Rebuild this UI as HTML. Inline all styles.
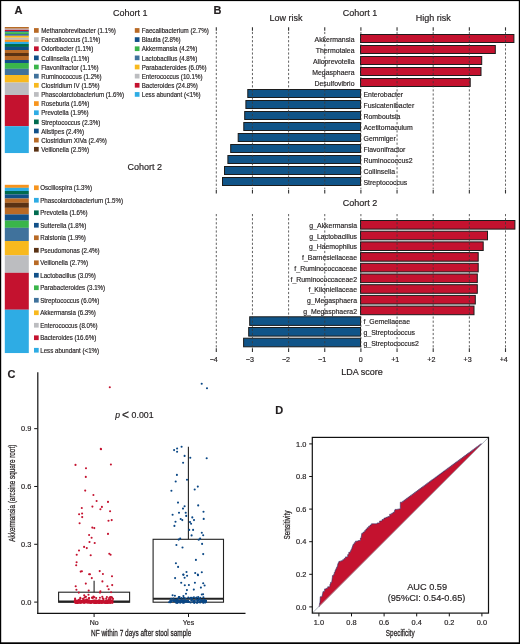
<!DOCTYPE html>
<html><head><meta charset="utf-8"><title>Figure</title>
<style>
html,body{margin:0;padding:0;background:#fff;}
body{width:520px;height:644px;overflow:hidden;}
svg{display:block;font-family:"Liberation Sans", sans-serif;will-change:transform;}
</style></head><body>
<svg width="520" height="644" viewBox="0 0 520 644">
<rect x="0" y="0" width="520" height="644" fill="#fff"/>
<text transform="translate(14.60,13.80)" font-size="11" fill="#231f20" stroke="#231f20" stroke-width="0.18" font-weight="bold">A</text>
<text transform="translate(113.00,15.70)" font-size="9" fill="#231f20" stroke="#231f20" stroke-width="0.18">Cohort 1</text>
<text transform="translate(127.40,169.90)" font-size="9" fill="#231f20" stroke="#231f20" stroke-width="0.18">Cohort 2</text>
<rect x="4.8" y="27" width="24" height="1.75" fill="#b86a26"/>
<rect x="4.8" y="28.7" width="24" height="1.15" fill="#bcbdc0"/>
<rect x="4.8" y="29.8" width="24" height="1.45" fill="#c4122f"/>
<rect x="4.8" y="31.2" width="24" height="1.05" fill="#115089"/>
<rect x="4.8" y="32.2" width="24" height="1.85" fill="#3ab54a"/>
<rect x="4.8" y="34" width="24" height="1.85" fill="#40729c"/>
<rect x="4.8" y="35.8" width="24" height="1.95" fill="#f8b91e"/>
<rect x="4.8" y="37.7" width="24" height="2.05" fill="#bcbdc0"/>
<rect x="4.8" y="39.7" width="24" height="2.25" fill="#f7941d"/>
<rect x="4.8" y="41.9" width="24" height="2.15" fill="#2eace4"/>
<rect x="4.8" y="44" width="24" height="2.95" fill="#006b4f"/>
<rect x="4.8" y="46.9" width="24" height="3.15" fill="#115089"/>
<rect x="4.8" y="50" width="24" height="3.05" fill="#b86a26"/>
<rect x="4.8" y="53" width="24" height="3.05" fill="#5a3214"/>
<rect x="4.8" y="56" width="24" height="4.05" fill="#b86a26"/>
<rect x="4.8" y="60" width="24" height="3.05" fill="#115089"/>
<rect x="4.8" y="63" width="24" height="5.85" fill="#3ab54a"/>
<rect x="4.8" y="68.8" width="24" height="6.25" fill="#40729c"/>
<rect x="4.8" y="75" width="24" height="7.55" fill="#f8b91e"/>
<rect x="4.8" y="82.5" width="24" height="12.55" fill="#bcbdc0"/>
<rect x="4.8" y="95" width="24" height="31.25" fill="#c4122f"/>
<rect x="4.8" y="126.2" width="24" height="26.85" fill="#2eace4"/>
<rect x="34" y="28.10" width="4.7" height="4.7" fill="#b86a26"/>
<text transform="translate(41.20,33.10) scale(0.86,1)" font-size="7.2" fill="#231f20" stroke="#231f20" stroke-width="0.18">Methanobrevibacter (1.1%)</text>
<rect x="34" y="37.24" width="4.7" height="4.7" fill="#bcbdc0"/>
<text transform="translate(41.20,42.24) scale(0.86,1)" font-size="7.2" fill="#231f20" stroke="#231f20" stroke-width="0.18">Faecalicoccus (1.1%)</text>
<rect x="34" y="46.38" width="4.7" height="4.7" fill="#c4122f"/>
<text transform="translate(41.20,51.38) scale(0.86,1)" font-size="7.2" fill="#231f20" stroke="#231f20" stroke-width="0.18">Odoribacter (1.1%)</text>
<rect x="34" y="55.52" width="4.7" height="4.7" fill="#115089"/>
<text transform="translate(41.20,60.52) scale(0.86,1)" font-size="7.2" fill="#231f20" stroke="#231f20" stroke-width="0.18">Collinsella (1.1%)</text>
<rect x="34" y="64.66" width="4.7" height="4.7" fill="#3ab54a"/>
<text transform="translate(41.20,69.66) scale(0.86,1)" font-size="7.2" fill="#231f20" stroke="#231f20" stroke-width="0.18">Flavonifractor (1.1%)</text>
<rect x="34" y="73.80" width="4.7" height="4.7" fill="#40729c"/>
<text transform="translate(41.20,78.80) scale(0.86,1)" font-size="7.2" fill="#231f20" stroke="#231f20" stroke-width="0.18">Ruminococcus (1.2%)</text>
<rect x="34" y="82.94" width="4.7" height="4.7" fill="#f8b91e"/>
<text transform="translate(41.20,87.94) scale(0.86,1)" font-size="7.2" fill="#231f20" stroke="#231f20" stroke-width="0.18">Clostridium IV (1.5%)</text>
<rect x="34" y="92.08" width="4.7" height="4.7" fill="#bcbdc0"/>
<text transform="translate(41.20,97.08) scale(0.86,1)" font-size="7.2" fill="#231f20" stroke="#231f20" stroke-width="0.18">Phascolarctobacterium (1.6%)</text>
<rect x="34" y="101.22" width="4.7" height="4.7" fill="#f7941d"/>
<text transform="translate(41.20,106.22) scale(0.86,1)" font-size="7.2" fill="#231f20" stroke="#231f20" stroke-width="0.18">Roseburia (1.6%)</text>
<rect x="34" y="110.36" width="4.7" height="4.7" fill="#2eace4"/>
<text transform="translate(41.20,115.36) scale(0.86,1)" font-size="7.2" fill="#231f20" stroke="#231f20" stroke-width="0.18">Prevotella (1.9%)</text>
<rect x="34" y="119.50" width="4.7" height="4.7" fill="#006b4f"/>
<text transform="translate(41.20,124.50) scale(0.86,1)" font-size="7.2" fill="#231f20" stroke="#231f20" stroke-width="0.18">Streptococcus (2.3%)</text>
<rect x="34" y="128.64" width="4.7" height="4.7" fill="#115089"/>
<text transform="translate(41.20,133.64) scale(0.86,1)" font-size="7.2" fill="#231f20" stroke="#231f20" stroke-width="0.18">Alistipes (2.4%)</text>
<rect x="34" y="137.78" width="4.7" height="4.7" fill="#b86a26"/>
<text transform="translate(41.20,142.78) scale(0.86,1)" font-size="7.2" fill="#231f20" stroke="#231f20" stroke-width="0.18">Clostridium XIVa (2.4%)</text>
<rect x="34" y="146.92" width="4.7" height="4.7" fill="#5a3214"/>
<text transform="translate(41.20,151.92) scale(0.86,1)" font-size="7.2" fill="#231f20" stroke="#231f20" stroke-width="0.18">Veillonella (2.5%)</text>
<rect x="134.8" y="28.10" width="4.7" height="4.7" fill="#b86a26"/>
<text transform="translate(141.70,33.10) scale(0.86,1)" font-size="7.2" fill="#231f20" stroke="#231f20" stroke-width="0.18">Faecalibacterium (2.7%)</text>
<rect x="134.8" y="37.24" width="4.7" height="4.7" fill="#115089"/>
<text transform="translate(141.70,42.24) scale(0.86,1)" font-size="7.2" fill="#231f20" stroke="#231f20" stroke-width="0.18">Blautia (2.8%)</text>
<rect x="134.8" y="46.38" width="4.7" height="4.7" fill="#3ab54a"/>
<text transform="translate(141.70,51.38) scale(0.86,1)" font-size="7.2" fill="#231f20" stroke="#231f20" stroke-width="0.18">Akkermansia (4.2%)</text>
<rect x="134.8" y="55.52" width="4.7" height="4.7" fill="#40729c"/>
<text transform="translate(141.70,60.52) scale(0.86,1)" font-size="7.2" fill="#231f20" stroke="#231f20" stroke-width="0.18">Lactobacillus (4.8%)</text>
<rect x="134.8" y="64.66" width="4.7" height="4.7" fill="#f8b91e"/>
<text transform="translate(141.70,69.66) scale(0.86,1)" font-size="7.2" fill="#231f20" stroke="#231f20" stroke-width="0.18">Parabacteroides (6.0%)</text>
<rect x="134.8" y="73.80" width="4.7" height="4.7" fill="#bcbdc0"/>
<text transform="translate(141.70,78.80) scale(0.86,1)" font-size="7.2" fill="#231f20" stroke="#231f20" stroke-width="0.18">Enterococcus (10.1%)</text>
<rect x="134.8" y="82.94" width="4.7" height="4.7" fill="#c4122f"/>
<text transform="translate(141.70,87.94) scale(0.86,1)" font-size="7.2" fill="#231f20" stroke="#231f20" stroke-width="0.18">Bacteroides (24.8%)</text>
<rect x="134.8" y="92.08" width="4.7" height="4.7" fill="#2eace4"/>
<text transform="translate(141.70,97.08) scale(0.86,1)" font-size="7.2" fill="#231f20" stroke="#231f20" stroke-width="0.18">Less abundant (&lt;1%)</text>
<rect x="4.8" y="184.8" width="24" height="3.05" fill="#f7941d"/>
<rect x="4.8" y="187.8" width="24" height="3.25" fill="#2eace4"/>
<rect x="4.8" y="191" width="24" height="3.45" fill="#006b4f"/>
<rect x="4.8" y="194.4" width="24" height="4.15" fill="#115089"/>
<rect x="4.8" y="198.5" width="24" height="4.35" fill="#b86a26"/>
<rect x="4.8" y="202.8" width="24" height="5.05" fill="#5a3214"/>
<rect x="4.8" y="207.8" width="24" height="6.65" fill="#b86a26"/>
<rect x="4.8" y="214.4" width="24" height="6.25" fill="#115089"/>
<rect x="4.8" y="220.6" width="24" height="7.25" fill="#3ab54a"/>
<rect x="4.8" y="227.8" width="24" height="13.25" fill="#40729c"/>
<rect x="4.8" y="241" width="24" height="14.35" fill="#f8b91e"/>
<rect x="4.8" y="255.3" width="24" height="17.55" fill="#bcbdc0"/>
<rect x="4.8" y="272.8" width="24" height="36.95" fill="#c4122f"/>
<rect x="4.8" y="309.7" width="24" height="43.35" fill="#2eace4"/>
<rect x="34" y="185.40" width="4.7" height="4.7" fill="#f7941d"/>
<text transform="translate(40.20,190.40) scale(0.86,1)" font-size="7.2" fill="#231f20" stroke="#231f20" stroke-width="0.18">Oscillospira (1.3%)</text>
<rect x="34" y="197.90" width="4.7" height="4.7" fill="#2eace4"/>
<text transform="translate(40.20,202.90) scale(0.86,1)" font-size="7.2" fill="#231f20" stroke="#231f20" stroke-width="0.18">Phascolarctobacterium (1.5%)</text>
<rect x="34" y="210.40" width="4.7" height="4.7" fill="#006b4f"/>
<text transform="translate(40.20,215.40) scale(0.86,1)" font-size="7.2" fill="#231f20" stroke="#231f20" stroke-width="0.18">Prevotella (1.6%)</text>
<rect x="34" y="222.90" width="4.7" height="4.7" fill="#115089"/>
<text transform="translate(40.20,227.90) scale(0.86,1)" font-size="7.2" fill="#231f20" stroke="#231f20" stroke-width="0.18">Sutterella (1.8%)</text>
<rect x="34" y="235.40" width="4.7" height="4.7" fill="#b86a26"/>
<text transform="translate(40.20,240.40) scale(0.86,1)" font-size="7.2" fill="#231f20" stroke="#231f20" stroke-width="0.18">Ralstonia (1.9%)</text>
<rect x="34" y="247.90" width="4.7" height="4.7" fill="#5a3214"/>
<text transform="translate(40.20,252.90) scale(0.86,1)" font-size="7.2" fill="#231f20" stroke="#231f20" stroke-width="0.18">Pseudomonas (2.4%)</text>
<rect x="34" y="260.40" width="4.7" height="4.7" fill="#b86a26"/>
<text transform="translate(40.20,265.40) scale(0.86,1)" font-size="7.2" fill="#231f20" stroke="#231f20" stroke-width="0.18">Veillonella (2.7%)</text>
<rect x="34" y="272.90" width="4.7" height="4.7" fill="#115089"/>
<text transform="translate(40.20,277.90) scale(0.86,1)" font-size="7.2" fill="#231f20" stroke="#231f20" stroke-width="0.18">Lactobacillus (3.0%)</text>
<rect x="34" y="285.40" width="4.7" height="4.7" fill="#3ab54a"/>
<text transform="translate(40.20,290.40) scale(0.86,1)" font-size="7.2" fill="#231f20" stroke="#231f20" stroke-width="0.18">Parabacteroides (3.1%)</text>
<rect x="34" y="297.90" width="4.7" height="4.7" fill="#40729c"/>
<text transform="translate(40.20,302.90) scale(0.86,1)" font-size="7.2" fill="#231f20" stroke="#231f20" stroke-width="0.18">Streptococcus (6.0%)</text>
<rect x="34" y="310.40" width="4.7" height="4.7" fill="#f8b91e"/>
<text transform="translate(40.20,315.40) scale(0.86,1)" font-size="7.2" fill="#231f20" stroke="#231f20" stroke-width="0.18">Akkermansia (6.3%)</text>
<rect x="34" y="322.90" width="4.7" height="4.7" fill="#bcbdc0"/>
<text transform="translate(40.20,327.90) scale(0.86,1)" font-size="7.2" fill="#231f20" stroke="#231f20" stroke-width="0.18">Enterococcus (8.0%)</text>
<rect x="34" y="335.40" width="4.7" height="4.7" fill="#c4122f"/>
<text transform="translate(40.20,340.40) scale(0.86,1)" font-size="7.2" fill="#231f20" stroke="#231f20" stroke-width="0.18">Bacteroides (16.6%)</text>
<rect x="34" y="347.90" width="4.7" height="4.7" fill="#2eace4"/>
<text transform="translate(40.20,352.90) scale(0.86,1)" font-size="7.2" fill="#231f20" stroke="#231f20" stroke-width="0.18">Less abundant (&lt;1%)</text>
<text transform="translate(213.40,13.80)" font-size="11" fill="#231f20" stroke="#231f20" stroke-width="0.18" font-weight="bold">B</text>
<text transform="translate(269.60,21.20)" font-size="9" fill="#231f20" stroke="#231f20" stroke-width="0.18">Low risk</text>
<text transform="translate(342.80,16.30)" font-size="9" fill="#231f20" stroke="#231f20" stroke-width="0.18">Cohort 1</text>
<text transform="translate(415.80,21.10)" font-size="9" fill="#231f20" stroke="#231f20" stroke-width="0.18">High risk</text>
<text transform="translate(342.70,206.30)" font-size="9" fill="#231f20" stroke="#231f20" stroke-width="0.18">Cohort 2</text>
<rect x="360.50" y="34.50" width="153.40" height="8.00" fill="#c4122f" stroke="#1c1c1c" stroke-width="1"/>
<text transform="translate(354.50,41.70) scale(0.935,1)" font-size="7.4" fill="#231f20" stroke="#231f20" stroke-width="0.18" text-anchor="end">Akkermansia</text>
<rect x="360.50" y="45.50" width="134.80" height="8.00" fill="#c4122f" stroke="#1c1c1c" stroke-width="1"/>
<text transform="translate(354.50,52.70) scale(0.935,1)" font-size="7.4" fill="#231f20" stroke="#231f20" stroke-width="0.18" text-anchor="end">Thermotalea</text>
<rect x="360.50" y="56.50" width="121.20" height="8.00" fill="#c4122f" stroke="#1c1c1c" stroke-width="1"/>
<text transform="translate(354.50,63.70) scale(0.935,1)" font-size="7.4" fill="#231f20" stroke="#231f20" stroke-width="0.18" text-anchor="end">Alloprevotella</text>
<rect x="360.50" y="67.50" width="120.50" height="8.00" fill="#c4122f" stroke="#1c1c1c" stroke-width="1"/>
<text transform="translate(354.50,74.70) scale(0.935,1)" font-size="7.4" fill="#231f20" stroke="#231f20" stroke-width="0.18" text-anchor="end">Megasphaera</text>
<rect x="360.50" y="78.50" width="109.70" height="8.00" fill="#c4122f" stroke="#1c1c1c" stroke-width="1"/>
<text transform="translate(354.50,85.70) scale(0.935,1)" font-size="7.4" fill="#231f20" stroke="#231f20" stroke-width="0.18" text-anchor="end">Desulfovibrio</text>
<rect x="247.80" y="89.50" width="112.70" height="8.00" fill="#105488" stroke="#1c1c1c" stroke-width="1"/>
<text transform="translate(363.50,96.70) scale(0.935,1)" font-size="7.4" fill="#231f20" stroke="#231f20" stroke-width="0.18">Enterobacter</text>
<rect x="245.90" y="100.50" width="114.60" height="8.00" fill="#105488" stroke="#1c1c1c" stroke-width="1"/>
<text transform="translate(363.50,107.70) scale(0.935,1)" font-size="7.4" fill="#231f20" stroke="#231f20" stroke-width="0.18">Fusicatenibacter</text>
<rect x="244.70" y="111.50" width="115.80" height="8.00" fill="#105488" stroke="#1c1c1c" stroke-width="1"/>
<text transform="translate(363.50,118.70) scale(0.935,1)" font-size="7.4" fill="#231f20" stroke="#231f20" stroke-width="0.18">Romboutsia</text>
<rect x="243.80" y="122.50" width="116.70" height="8.00" fill="#105488" stroke="#1c1c1c" stroke-width="1"/>
<text transform="translate(363.50,129.70) scale(0.935,1)" font-size="7.4" fill="#231f20" stroke="#231f20" stroke-width="0.18">Acetitomaculum</text>
<rect x="238.20" y="133.50" width="122.30" height="8.00" fill="#105488" stroke="#1c1c1c" stroke-width="1"/>
<text transform="translate(363.50,140.70) scale(0.935,1)" font-size="7.4" fill="#231f20" stroke="#231f20" stroke-width="0.18">Gemmiger</text>
<rect x="230.70" y="144.50" width="129.80" height="8.00" fill="#105488" stroke="#1c1c1c" stroke-width="1"/>
<text transform="translate(363.50,151.70) scale(0.935,1)" font-size="7.4" fill="#231f20" stroke="#231f20" stroke-width="0.18">Flavonifractor</text>
<rect x="227.90" y="155.50" width="132.60" height="8.00" fill="#105488" stroke="#1c1c1c" stroke-width="1"/>
<text transform="translate(363.50,162.70) scale(0.935,1)" font-size="7.4" fill="#231f20" stroke="#231f20" stroke-width="0.18">Ruminococcus2</text>
<rect x="224.50" y="166.50" width="136.00" height="8.00" fill="#105488" stroke="#1c1c1c" stroke-width="1"/>
<text transform="translate(363.50,173.70) scale(0.935,1)" font-size="7.4" fill="#231f20" stroke="#231f20" stroke-width="0.18">Collinsella</text>
<rect x="222.50" y="177.50" width="138.00" height="8.00" fill="#105488" stroke="#1c1c1c" stroke-width="1"/>
<text transform="translate(363.50,184.70) scale(0.935,1)" font-size="7.4" fill="#231f20" stroke="#231f20" stroke-width="0.18">Streptococcus</text>
<line x1="216.30" y1="27.3" x2="216.30" y2="30.7" stroke="#333" stroke-width="1.1"/>
<line x1="216.30" y1="189.7" x2="216.30" y2="193.5" stroke="#333" stroke-width="1.1"/>
<line x1="216.30" y1="31.9" x2="216.30" y2="188.9" stroke="#3a3a3a" stroke-width="0.8" stroke-dasharray="2.2 1.9"/>
<line x1="252.45" y1="27.3" x2="252.45" y2="30.7" stroke="#333" stroke-width="1.1"/>
<line x1="252.45" y1="189.7" x2="252.45" y2="193.5" stroke="#333" stroke-width="1.1"/>
<line x1="252.45" y1="31.9" x2="252.45" y2="188.9" stroke="#3a3a3a" stroke-width="0.8" stroke-dasharray="2.2 1.9"/>
<line x1="288.60" y1="27.3" x2="288.60" y2="30.7" stroke="#333" stroke-width="1.1"/>
<line x1="288.60" y1="189.7" x2="288.60" y2="193.5" stroke="#333" stroke-width="1.1"/>
<line x1="288.60" y1="31.9" x2="288.60" y2="188.9" stroke="#3a3a3a" stroke-width="0.8" stroke-dasharray="2.2 1.9"/>
<line x1="324.75" y1="27.3" x2="324.75" y2="30.7" stroke="#333" stroke-width="1.1"/>
<line x1="324.75" y1="189.7" x2="324.75" y2="193.5" stroke="#333" stroke-width="1.1"/>
<line x1="324.75" y1="31.9" x2="324.75" y2="188.9" stroke="#3a3a3a" stroke-width="0.8" stroke-dasharray="2.2 1.9"/>
<line x1="360.90" y1="27.3" x2="360.90" y2="30.7" stroke="#333" stroke-width="1.1"/>
<line x1="360.90" y1="189.7" x2="360.90" y2="193.5" stroke="#333" stroke-width="1.1"/>
<line x1="360.90" y1="31.9" x2="360.90" y2="188.9" stroke="#3a3a3a" stroke-width="0.8" stroke-dasharray="2.2 1.9"/>
<line x1="397.05" y1="27.3" x2="397.05" y2="30.7" stroke="#333" stroke-width="1.1"/>
<line x1="397.05" y1="189.7" x2="397.05" y2="193.5" stroke="#333" stroke-width="1.1"/>
<line x1="397.05" y1="31.9" x2="397.05" y2="188.9" stroke="#3a3a3a" stroke-width="0.8" stroke-dasharray="2.2 1.9"/>
<line x1="433.20" y1="27.3" x2="433.20" y2="30.7" stroke="#333" stroke-width="1.1"/>
<line x1="433.20" y1="189.7" x2="433.20" y2="193.5" stroke="#333" stroke-width="1.1"/>
<line x1="433.20" y1="31.9" x2="433.20" y2="188.9" stroke="#3a3a3a" stroke-width="0.8" stroke-dasharray="2.2 1.9"/>
<line x1="469.35" y1="27.3" x2="469.35" y2="30.7" stroke="#333" stroke-width="1.1"/>
<line x1="469.35" y1="189.7" x2="469.35" y2="193.5" stroke="#333" stroke-width="1.1"/>
<line x1="469.35" y1="31.9" x2="469.35" y2="188.9" stroke="#3a3a3a" stroke-width="0.8" stroke-dasharray="2.2 1.9"/>
<line x1="505.50" y1="27.3" x2="505.50" y2="30.7" stroke="#333" stroke-width="1.1"/>
<line x1="505.50" y1="189.7" x2="505.50" y2="193.5" stroke="#333" stroke-width="1.1"/>
<line x1="505.50" y1="31.9" x2="505.50" y2="188.9" stroke="#3a3a3a" stroke-width="0.8" stroke-dasharray="2.2 1.9"/>
<rect x="360.50" y="220.50" width="154.40" height="8.60" fill="#c4122f" stroke="#1c1c1c" stroke-width="1"/>
<text transform="translate(357.00,228.00) scale(0.935,1)" font-size="7.4" fill="#231f20" stroke="#231f20" stroke-width="0.18" text-anchor="end">g_Akkermansia</text>
<rect x="360.50" y="231.20" width="127.00" height="8.60" fill="#c4122f" stroke="#1c1c1c" stroke-width="1"/>
<text transform="translate(357.00,238.70) scale(0.935,1)" font-size="7.4" fill="#231f20" stroke="#231f20" stroke-width="0.18" text-anchor="end">g_Lactobacillus</text>
<rect x="360.50" y="241.90" width="122.70" height="8.60" fill="#c4122f" stroke="#1c1c1c" stroke-width="1"/>
<text transform="translate(357.00,249.40) scale(0.935,1)" font-size="7.4" fill="#231f20" stroke="#231f20" stroke-width="0.18" text-anchor="end">g_Haemophilus</text>
<rect x="360.50" y="252.60" width="117.70" height="8.60" fill="#c4122f" stroke="#1c1c1c" stroke-width="1"/>
<text transform="translate(357.00,260.10) scale(0.935,1)" font-size="7.4" fill="#231f20" stroke="#231f20" stroke-width="0.18" text-anchor="end">f_Barnesiellaceae</text>
<rect x="360.50" y="263.30" width="117.70" height="8.60" fill="#c4122f" stroke="#1c1c1c" stroke-width="1"/>
<text transform="translate(357.00,270.80) scale(0.935,1)" font-size="7.4" fill="#231f20" stroke="#231f20" stroke-width="0.18" text-anchor="end">f_Ruminococcaceae</text>
<rect x="360.50" y="274.00" width="116.80" height="8.60" fill="#c4122f" stroke="#1c1c1c" stroke-width="1"/>
<text transform="translate(357.00,281.50) scale(0.935,1)" font-size="7.4" fill="#231f20" stroke="#231f20" stroke-width="0.18" text-anchor="end">f_Ruminococcaceae2</text>
<rect x="360.50" y="284.70" width="116.80" height="8.60" fill="#c4122f" stroke="#1c1c1c" stroke-width="1"/>
<text transform="translate(357.00,292.20) scale(0.935,1)" font-size="7.4" fill="#231f20" stroke="#231f20" stroke-width="0.18" text-anchor="end">f_Kiloniellaceae</text>
<rect x="360.50" y="295.40" width="114.80" height="8.60" fill="#c4122f" stroke="#1c1c1c" stroke-width="1"/>
<text transform="translate(357.00,302.90) scale(0.935,1)" font-size="7.4" fill="#231f20" stroke="#231f20" stroke-width="0.18" text-anchor="end">g_Megasphaera</text>
<rect x="360.50" y="306.10" width="113.50" height="8.60" fill="#c4122f" stroke="#1c1c1c" stroke-width="1"/>
<text transform="translate(357.00,313.60) scale(0.935,1)" font-size="7.4" fill="#231f20" stroke="#231f20" stroke-width="0.18" text-anchor="end">g_Megasphaera2</text>
<rect x="249.70" y="316.80" width="110.80" height="8.60" fill="#105488" stroke="#1c1c1c" stroke-width="1"/>
<text transform="translate(363.50,324.30) scale(0.935,1)" font-size="7.4" fill="#231f20" stroke="#231f20" stroke-width="0.18">f_Gemellaceae</text>
<rect x="248.70" y="327.50" width="111.80" height="8.60" fill="#105488" stroke="#1c1c1c" stroke-width="1"/>
<text transform="translate(363.50,335.00) scale(0.935,1)" font-size="7.4" fill="#231f20" stroke="#231f20" stroke-width="0.18">g_Streptococcus</text>
<rect x="243.60" y="338.20" width="116.90" height="8.60" fill="#105488" stroke="#1c1c1c" stroke-width="1"/>
<text transform="translate(363.50,345.70) scale(0.935,1)" font-size="7.4" fill="#231f20" stroke="#231f20" stroke-width="0.18">g_Streptococcus2</text>
<line x1="216.30" y1="348.2" x2="216.30" y2="352" stroke="#333" stroke-width="1.1"/>
<line x1="216.30" y1="214.0" x2="216.30" y2="347.4" stroke="#3a3a3a" stroke-width="0.8" stroke-dasharray="2.2 1.9"/>
<line x1="252.45" y1="348.2" x2="252.45" y2="352" stroke="#333" stroke-width="1.1"/>
<line x1="252.45" y1="214.0" x2="252.45" y2="347.4" stroke="#3a3a3a" stroke-width="0.8" stroke-dasharray="2.2 1.9"/>
<line x1="288.60" y1="348.2" x2="288.60" y2="352" stroke="#333" stroke-width="1.1"/>
<line x1="288.60" y1="214.0" x2="288.60" y2="347.4" stroke="#3a3a3a" stroke-width="0.8" stroke-dasharray="2.2 1.9"/>
<line x1="324.75" y1="348.2" x2="324.75" y2="352" stroke="#333" stroke-width="1.1"/>
<line x1="324.75" y1="214.0" x2="324.75" y2="347.4" stroke="#3a3a3a" stroke-width="0.8" stroke-dasharray="2.2 1.9"/>
<line x1="360.90" y1="348.2" x2="360.90" y2="352" stroke="#333" stroke-width="1.1"/>
<line x1="360.90" y1="214.0" x2="360.90" y2="347.4" stroke="#3a3a3a" stroke-width="0.8" stroke-dasharray="2.2 1.9"/>
<line x1="397.05" y1="348.2" x2="397.05" y2="352" stroke="#333" stroke-width="1.1"/>
<line x1="397.05" y1="214.0" x2="397.05" y2="347.4" stroke="#3a3a3a" stroke-width="0.8" stroke-dasharray="2.2 1.9"/>
<line x1="433.20" y1="348.2" x2="433.20" y2="352" stroke="#333" stroke-width="1.1"/>
<line x1="433.20" y1="214.0" x2="433.20" y2="347.4" stroke="#3a3a3a" stroke-width="0.8" stroke-dasharray="2.2 1.9"/>
<line x1="469.35" y1="348.2" x2="469.35" y2="352" stroke="#333" stroke-width="1.1"/>
<line x1="469.35" y1="214.0" x2="469.35" y2="347.4" stroke="#3a3a3a" stroke-width="0.8" stroke-dasharray="2.2 1.9"/>
<line x1="505.50" y1="348.2" x2="505.50" y2="352" stroke="#333" stroke-width="1.1"/>
<line x1="505.50" y1="214.0" x2="505.50" y2="347.4" stroke="#3a3a3a" stroke-width="0.8" stroke-dasharray="2.2 1.9"/>
<text transform="translate(213.70,361.90)" font-size="7.1" fill="#231f20" stroke="#231f20" stroke-width="0.18" text-anchor="middle">−4</text>
<text transform="translate(249.85,361.90)" font-size="7.1" fill="#231f20" stroke="#231f20" stroke-width="0.18" text-anchor="middle">−3</text>
<text transform="translate(286.00,361.90)" font-size="7.1" fill="#231f20" stroke="#231f20" stroke-width="0.18" text-anchor="middle">−2</text>
<text transform="translate(322.15,361.90)" font-size="7.1" fill="#231f20" stroke="#231f20" stroke-width="0.18" text-anchor="middle">−1</text>
<text transform="translate(360.80,361.90)" font-size="7.1" fill="#231f20" stroke="#231f20" stroke-width="0.18" text-anchor="middle">0</text>
<text transform="translate(395.25,361.90)" font-size="7.1" fill="#231f20" stroke="#231f20" stroke-width="0.18" text-anchor="middle">+1</text>
<text transform="translate(431.40,361.90)" font-size="7.1" fill="#231f20" stroke="#231f20" stroke-width="0.18" text-anchor="middle">+2</text>
<text transform="translate(467.55,361.90)" font-size="7.1" fill="#231f20" stroke="#231f20" stroke-width="0.18" text-anchor="middle">+3</text>
<text transform="translate(503.70,361.90)" font-size="7.1" fill="#231f20" stroke="#231f20" stroke-width="0.18" text-anchor="middle">+4</text>
<text transform="translate(341.20,374.60)" font-size="9" fill="#231f20" stroke="#231f20" stroke-width="0.18">LDA score</text>
<text transform="translate(7.40,378.30)" font-size="11" fill="#231f20" stroke="#231f20" stroke-width="0.18" font-weight="bold">C</text>
<line x1="37.8" y1="372.3" x2="37.8" y2="613.9" stroke="#111" stroke-width="1.2"/>
<line x1="37.2" y1="613.3" x2="245.5" y2="613.3" stroke="#111" stroke-width="1.2"/>
<line x1="34.2" y1="602.10" x2="37.5" y2="602.10" stroke="#111" stroke-width="1"/>
<text transform="translate(31.30,604.70)" font-size="7.4" fill="#231f20" stroke="#231f20" stroke-width="0.18" text-anchor="end">0.0</text>
<line x1="34.2" y1="544.29" x2="37.5" y2="544.29" stroke="#111" stroke-width="1"/>
<text transform="translate(31.30,546.89)" font-size="7.4" fill="#231f20" stroke="#231f20" stroke-width="0.18" text-anchor="end">0.3</text>
<line x1="34.2" y1="486.48" x2="37.5" y2="486.48" stroke="#111" stroke-width="1"/>
<text transform="translate(31.30,489.08)" font-size="7.4" fill="#231f20" stroke="#231f20" stroke-width="0.18" text-anchor="end">0.6</text>
<line x1="34.2" y1="428.67" x2="37.5" y2="428.67" stroke="#111" stroke-width="1"/>
<text transform="translate(31.30,431.27)" font-size="7.4" fill="#231f20" stroke="#231f20" stroke-width="0.18" text-anchor="end">0.9</text>
<line x1="94.1" y1="613.3" x2="94.1" y2="617" stroke="#111" stroke-width="1"/>
<text transform="translate(94.10,624.80)" font-size="7.0" fill="#231f20" stroke="#231f20" stroke-width="0.18" text-anchor="middle">No</text>
<line x1="188.5" y1="613.3" x2="188.5" y2="617" stroke="#111" stroke-width="1"/>
<text transform="translate(188.50,624.80)" font-size="7.0" fill="#231f20" stroke="#231f20" stroke-width="0.18" text-anchor="middle">Yes</text>
<text transform="translate(141.20,636.00) scale(0.777,1)" font-size="8.3" fill="#231f20" text-anchor="middle" stroke="#231f20" stroke-width="0.25">NF within 7 days after stool sample</text>
<text transform="translate(14.60,493.20) rotate(-90) scale(0.7662158710739319,1)" font-size="8.3" fill="#231f20" text-anchor="middle" stroke="#231f20" stroke-width="0.25">Akkermansia (arcsine square root)</text>
<text transform="translate(115.30,417.90)" font-size="8.6" fill="#231f20" stroke="#231f20" stroke-width="0.18" font-style="italic">p</text>
<text transform="translate(122.00,418.60)" font-size="12.0" fill="#231f20" stroke="#231f20" stroke-width="0.18">&lt;</text>
<text transform="translate(131.60,417.90)" font-size="8.75" fill="#231f20" stroke="#231f20" stroke-width="0.18">0.001</text>
<rect x="58.6" y="592.2" width="71" height="10" fill="none" stroke="#222" stroke-width="1.1"/>
<line x1="58.6" y1="601.4" x2="129.6" y2="601.4" stroke="#222" stroke-width="2"/>
<line x1="94.1" y1="580.8" x2="94.1" y2="592.2" stroke="#222" stroke-width="1.1"/>
<rect x="153.1" y="539.3" width="70.4" height="62.9" fill="none" stroke="#222" stroke-width="1.1"/>
<line x1="153.1" y1="598.7" x2="223.5" y2="598.7" stroke="#222" stroke-width="2"/>
<line x1="188.4" y1="446.7" x2="188.4" y2="539.3" stroke="#222" stroke-width="1.1"/>
<circle cx="109.8" cy="387.2" r="1.05" fill="#c4122f"/>
<circle cx="101.0" cy="449.2" r="1.05" fill="#c4122f"/>
<circle cx="75.5" cy="464.9" r="1.05" fill="#c4122f"/>
<circle cx="110.9" cy="464.5" r="1.05" fill="#c4122f"/>
<circle cx="86.0" cy="468.3" r="1.05" fill="#c4122f"/>
<circle cx="85.8" cy="476.9" r="1.05" fill="#c4122f"/>
<circle cx="85.2" cy="490.6" r="1.05" fill="#c4122f"/>
<circle cx="93.4" cy="495.0" r="1.05" fill="#c4122f"/>
<circle cx="96.6" cy="501.0" r="1.05" fill="#c4122f"/>
<circle cx="108.0" cy="501.9" r="1.05" fill="#c4122f"/>
<circle cx="81.8" cy="508.0" r="1.05" fill="#c4122f"/>
<circle cx="92.4" cy="506.6" r="1.05" fill="#c4122f"/>
<circle cx="101.9" cy="506.9" r="1.05" fill="#c4122f"/>
<circle cx="100.4" cy="509.3" r="1.05" fill="#c4122f"/>
<circle cx="110.1" cy="511.2" r="1.05" fill="#c4122f"/>
<circle cx="79.1" cy="514.2" r="1.05" fill="#c4122f"/>
<circle cx="82.1" cy="513.5" r="1.05" fill="#c4122f"/>
<circle cx="82.2" cy="517.1" r="1.05" fill="#c4122f"/>
<circle cx="108.5" cy="520.7" r="1.05" fill="#c4122f"/>
<circle cx="111.7" cy="520.1" r="1.05" fill="#c4122f"/>
<circle cx="79.6" cy="523.2" r="1.05" fill="#c4122f"/>
<circle cx="92.3" cy="527.6" r="1.05" fill="#c4122f"/>
<circle cx="94.3" cy="528.1" r="1.05" fill="#c4122f"/>
<circle cx="108.0" cy="533.9" r="1.05" fill="#c4122f"/>
<circle cx="89.1" cy="535.0" r="1.05" fill="#c4122f"/>
<circle cx="91.6" cy="537.7" r="1.05" fill="#c4122f"/>
<circle cx="89.5" cy="542.0" r="1.05" fill="#c4122f"/>
<circle cx="94.7" cy="543.0" r="1.05" fill="#c4122f"/>
<circle cx="84.1" cy="546.9" r="1.05" fill="#c4122f"/>
<circle cx="86.8" cy="548.1" r="1.05" fill="#c4122f"/>
<circle cx="79.0" cy="550.5" r="1.05" fill="#c4122f"/>
<circle cx="76.7" cy="554.8" r="1.05" fill="#c4122f"/>
<circle cx="90.7" cy="555.2" r="1.05" fill="#c4122f"/>
<circle cx="109.3" cy="553.7" r="1.05" fill="#c4122f"/>
<circle cx="110.6" cy="554.7" r="1.05" fill="#c4122f"/>
<circle cx="76.6" cy="562.2" r="1.05" fill="#c4122f"/>
<circle cx="76.2" cy="565.2" r="1.05" fill="#c4122f"/>
<circle cx="80.7" cy="571.6" r="1.05" fill="#c4122f"/>
<circle cx="81.9" cy="571.2" r="1.05" fill="#c4122f"/>
<circle cx="99.7" cy="571.1" r="1.05" fill="#c4122f"/>
<circle cx="89.1" cy="574.2" r="1.05" fill="#c4122f"/>
<circle cx="90.0" cy="574.2" r="1.05" fill="#c4122f"/>
<circle cx="102.9" cy="574.0" r="1.05" fill="#c4122f"/>
<circle cx="112.0" cy="576.3" r="1.05" fill="#c4122f"/>
<circle cx="91.8" cy="578.1" r="1.05" fill="#c4122f"/>
<circle cx="102.4" cy="581.4" r="1.05" fill="#c4122f"/>
<circle cx="85.8" cy="583.6" r="1.05" fill="#c4122f"/>
<circle cx="112.2" cy="585.1" r="1.05" fill="#c4122f"/>
<circle cx="75.7" cy="586.2" r="1.05" fill="#c4122f"/>
<circle cx="107.4" cy="586.2" r="1.05" fill="#c4122f"/>
<circle cx="76.4" cy="589.8" r="1.05" fill="#c4122f"/>
<circle cx="108.7" cy="589.2" r="1.05" fill="#c4122f"/>
<circle cx="88.7" cy="590.6" r="1.05" fill="#c4122f"/>
<circle cx="78.8" cy="592.6" r="1.05" fill="#c4122f"/>
<circle cx="100.4" cy="591.3" r="1.05" fill="#c4122f"/>
<circle cx="100.0" cy="592.6" r="1.05" fill="#c4122f"/>
<circle cx="111.1" cy="592.2" r="1.05" fill="#c4122f"/>
<circle cx="84.2" cy="595.3" r="1.05" fill="#c4122f"/>
<circle cx="88.5" cy="594.8" r="1.05" fill="#c4122f"/>
<circle cx="100.8" cy="448.9" r="1.05" fill="#c4122f"/>
<circle cx="87.2" cy="600.9" r="1.05" fill="#c4122f"/>
<circle cx="99.7" cy="600.8" r="1.05" fill="#c4122f"/>
<circle cx="95.3" cy="601.4" r="1.05" fill="#c4122f"/>
<circle cx="77.0" cy="601.8" r="1.05" fill="#c4122f"/>
<circle cx="76.2" cy="601.6" r="1.05" fill="#c4122f"/>
<circle cx="77.5" cy="600.8" r="1.05" fill="#c4122f"/>
<circle cx="91.0" cy="602.5" r="1.05" fill="#c4122f"/>
<circle cx="79.5" cy="601.1" r="1.05" fill="#c4122f"/>
<circle cx="98.8" cy="602.8" r="1.05" fill="#c4122f"/>
<circle cx="96.8" cy="601.5" r="1.05" fill="#c4122f"/>
<circle cx="112.1" cy="600.7" r="1.05" fill="#c4122f"/>
<circle cx="107.6" cy="601.3" r="1.05" fill="#c4122f"/>
<circle cx="80.3" cy="600.9" r="1.05" fill="#c4122f"/>
<circle cx="86.6" cy="602.5" r="1.05" fill="#c4122f"/>
<circle cx="81.7" cy="601.9" r="1.05" fill="#c4122f"/>
<circle cx="99.2" cy="601.5" r="1.05" fill="#c4122f"/>
<circle cx="95.7" cy="600.7" r="1.05" fill="#c4122f"/>
<circle cx="77.1" cy="601.1" r="1.05" fill="#c4122f"/>
<circle cx="100.8" cy="601.6" r="1.05" fill="#c4122f"/>
<circle cx="86.8" cy="601.9" r="1.05" fill="#c4122f"/>
<circle cx="92.1" cy="601.3" r="1.05" fill="#c4122f"/>
<circle cx="105.1" cy="602.2" r="1.05" fill="#c4122f"/>
<circle cx="84.1" cy="601.9" r="1.05" fill="#c4122f"/>
<circle cx="94.9" cy="602.6" r="1.05" fill="#c4122f"/>
<circle cx="102.7" cy="601.3" r="1.05" fill="#c4122f"/>
<circle cx="112.2" cy="600.9" r="1.05" fill="#c4122f"/>
<circle cx="90.8" cy="602.3" r="1.05" fill="#c4122f"/>
<circle cx="80.6" cy="601.7" r="1.05" fill="#c4122f"/>
<circle cx="76.3" cy="602.1" r="1.05" fill="#c4122f"/>
<circle cx="104.0" cy="601.9" r="1.05" fill="#c4122f"/>
<circle cx="108.2" cy="601.3" r="1.05" fill="#c4122f"/>
<circle cx="101.4" cy="602.0" r="1.05" fill="#c4122f"/>
<circle cx="97.0" cy="601.6" r="1.05" fill="#c4122f"/>
<circle cx="106.9" cy="602.8" r="1.05" fill="#c4122f"/>
<circle cx="92.9" cy="602.1" r="1.05" fill="#c4122f"/>
<circle cx="77.1" cy="602.2" r="1.05" fill="#c4122f"/>
<circle cx="99.5" cy="602.9" r="1.05" fill="#c4122f"/>
<circle cx="106.2" cy="601.3" r="1.05" fill="#c4122f"/>
<circle cx="89.5" cy="602.1" r="1.05" fill="#c4122f"/>
<circle cx="75.7" cy="601.7" r="1.05" fill="#c4122f"/>
<circle cx="81.2" cy="600.9" r="1.05" fill="#c4122f"/>
<circle cx="77.1" cy="602.4" r="1.05" fill="#c4122f"/>
<circle cx="79.7" cy="601.2" r="1.05" fill="#c4122f"/>
<circle cx="89.7" cy="602.6" r="1.05" fill="#c4122f"/>
<circle cx="77.9" cy="601.6" r="1.05" fill="#c4122f"/>
<circle cx="95.8" cy="602.6" r="1.05" fill="#c4122f"/>
<circle cx="106.1" cy="602.6" r="1.05" fill="#c4122f"/>
<circle cx="85.4" cy="601.6" r="1.05" fill="#c4122f"/>
<circle cx="88.5" cy="602.6" r="1.05" fill="#c4122f"/>
<circle cx="111.4" cy="600.9" r="1.05" fill="#c4122f"/>
<circle cx="81.5" cy="601.1" r="1.05" fill="#c4122f"/>
<circle cx="83.7" cy="601.7" r="1.05" fill="#c4122f"/>
<circle cx="97.3" cy="601.2" r="1.05" fill="#c4122f"/>
<circle cx="75.0" cy="601.6" r="1.05" fill="#c4122f"/>
<circle cx="88.9" cy="601.9" r="1.05" fill="#c4122f"/>
<circle cx="111.2" cy="602.2" r="1.05" fill="#c4122f"/>
<circle cx="94.5" cy="602.0" r="1.05" fill="#c4122f"/>
<circle cx="100.6" cy="600.7" r="1.05" fill="#c4122f"/>
<circle cx="109.2" cy="602.4" r="1.05" fill="#c4122f"/>
<circle cx="108.2" cy="602.4" r="1.05" fill="#c4122f"/>
<circle cx="89.8" cy="601.5" r="1.05" fill="#c4122f"/>
<circle cx="78.8" cy="602.1" r="1.05" fill="#c4122f"/>
<circle cx="77.2" cy="600.8" r="1.05" fill="#c4122f"/>
<circle cx="82.8" cy="601.0" r="1.05" fill="#c4122f"/>
<circle cx="87.8" cy="600.7" r="1.05" fill="#c4122f"/>
<circle cx="74.8" cy="600.9" r="1.05" fill="#c4122f"/>
<circle cx="78.7" cy="601.4" r="1.05" fill="#c4122f"/>
<circle cx="75.8" cy="602.6" r="1.05" fill="#c4122f"/>
<circle cx="98.3" cy="600.9" r="1.05" fill="#c4122f"/>
<circle cx="84.4" cy="601.4" r="1.05" fill="#c4122f"/>
<circle cx="88.7" cy="600.9" r="1.05" fill="#c4122f"/>
<circle cx="107.2" cy="602.9" r="1.05" fill="#c4122f"/>
<circle cx="92.6" cy="601.7" r="1.05" fill="#c4122f"/>
<circle cx="78.1" cy="600.8" r="1.05" fill="#c4122f"/>
<circle cx="87.9" cy="601.2" r="1.05" fill="#c4122f"/>
<circle cx="106.5" cy="601.0" r="1.05" fill="#c4122f"/>
<circle cx="75.7" cy="602.8" r="1.05" fill="#c4122f"/>
<circle cx="95.0" cy="600.9" r="1.05" fill="#c4122f"/>
<circle cx="95.5" cy="600.7" r="1.05" fill="#c4122f"/>
<circle cx="95.0" cy="602.9" r="1.05" fill="#c4122f"/>
<circle cx="107.8" cy="602.2" r="1.05" fill="#c4122f"/>
<circle cx="84.8" cy="601.4" r="1.05" fill="#c4122f"/>
<circle cx="81.2" cy="602.4" r="1.05" fill="#c4122f"/>
<circle cx="95.1" cy="602.4" r="1.05" fill="#c4122f"/>
<circle cx="87.4" cy="601.1" r="1.05" fill="#c4122f"/>
<circle cx="105.8" cy="602.9" r="1.05" fill="#c4122f"/>
<circle cx="107.4" cy="602.5" r="1.05" fill="#c4122f"/>
<circle cx="106.1" cy="602.3" r="1.05" fill="#c4122f"/>
<circle cx="83.5" cy="601.8" r="1.05" fill="#c4122f"/>
<circle cx="88.4" cy="600.7" r="1.05" fill="#c4122f"/>
<circle cx="75.9" cy="601.2" r="1.05" fill="#c4122f"/>
<circle cx="84.7" cy="602.2" r="1.05" fill="#c4122f"/>
<circle cx="111.3" cy="601.6" r="1.05" fill="#c4122f"/>
<circle cx="110.6" cy="602.9" r="1.05" fill="#c4122f"/>
<circle cx="111.3" cy="601.4" r="1.05" fill="#c4122f"/>
<circle cx="83.2" cy="601.1" r="1.05" fill="#c4122f"/>
<circle cx="82.3" cy="601.1" r="1.05" fill="#c4122f"/>
<circle cx="98.6" cy="602.7" r="1.05" fill="#c4122f"/>
<circle cx="106.9" cy="601.7" r="1.05" fill="#c4122f"/>
<circle cx="99.7" cy="602.4" r="1.05" fill="#c4122f"/>
<circle cx="78.0" cy="602.1" r="1.05" fill="#c4122f"/>
<circle cx="109.6" cy="602.4" r="1.05" fill="#c4122f"/>
<circle cx="103.5" cy="601.7" r="1.05" fill="#c4122f"/>
<circle cx="81.6" cy="602.4" r="1.05" fill="#c4122f"/>
<circle cx="87.5" cy="602.4" r="1.05" fill="#c4122f"/>
<circle cx="111.9" cy="601.5" r="1.05" fill="#c4122f"/>
<circle cx="90.1" cy="602.8" r="1.05" fill="#c4122f"/>
<circle cx="102.5" cy="601.0" r="1.05" fill="#c4122f"/>
<circle cx="79.7" cy="600.9" r="1.05" fill="#c4122f"/>
<circle cx="109.4" cy="602.5" r="1.05" fill="#c4122f"/>
<circle cx="80.4" cy="602.5" r="1.05" fill="#c4122f"/>
<circle cx="112.2" cy="602.1" r="1.05" fill="#c4122f"/>
<circle cx="88.2" cy="601.9" r="1.05" fill="#c4122f"/>
<circle cx="79.8" cy="600.6" r="1.05" fill="#c4122f"/>
<circle cx="111.9" cy="602.1" r="1.05" fill="#c4122f"/>
<circle cx="94.9" cy="602.7" r="1.05" fill="#c4122f"/>
<circle cx="91.4" cy="602.6" r="1.05" fill="#c4122f"/>
<circle cx="106.4" cy="601.1" r="1.05" fill="#c4122f"/>
<circle cx="84.4" cy="601.3" r="1.05" fill="#c4122f"/>
<circle cx="84.0" cy="601.9" r="1.05" fill="#c4122f"/>
<circle cx="84.7" cy="601.6" r="1.05" fill="#c4122f"/>
<circle cx="79.8" cy="602.7" r="1.05" fill="#c4122f"/>
<circle cx="88.3" cy="601.7" r="1.05" fill="#c4122f"/>
<circle cx="97.1" cy="602.7" r="1.05" fill="#c4122f"/>
<circle cx="90.9" cy="602.7" r="1.05" fill="#c4122f"/>
<circle cx="94.0" cy="601.8" r="1.05" fill="#c4122f"/>
<circle cx="94.8" cy="600.6" r="1.05" fill="#c4122f"/>
<circle cx="91.6" cy="601.0" r="1.05" fill="#c4122f"/>
<circle cx="75.0" cy="602.4" r="1.05" fill="#c4122f"/>
<circle cx="81.4" cy="601.7" r="1.05" fill="#c4122f"/>
<circle cx="102.5" cy="601.9" r="1.05" fill="#c4122f"/>
<circle cx="87.3" cy="601.8" r="1.05" fill="#c4122f"/>
<circle cx="96.0" cy="602.4" r="1.05" fill="#c4122f"/>
<circle cx="78.9" cy="601.9" r="1.05" fill="#c4122f"/>
<circle cx="84.3" cy="601.2" r="1.05" fill="#c4122f"/>
<circle cx="104.3" cy="601.8" r="1.05" fill="#c4122f"/>
<circle cx="96.3" cy="602.3" r="1.05" fill="#c4122f"/>
<circle cx="109.7" cy="601.6" r="1.05" fill="#c4122f"/>
<circle cx="98.2" cy="601.8" r="1.05" fill="#c4122f"/>
<circle cx="94.4" cy="602.2" r="1.05" fill="#c4122f"/>
<circle cx="92.1" cy="601.8" r="1.05" fill="#c4122f"/>
<circle cx="93.1" cy="602.8" r="1.05" fill="#c4122f"/>
<circle cx="101.5" cy="602.6" r="1.05" fill="#c4122f"/>
<circle cx="110.8" cy="601.2" r="1.05" fill="#c4122f"/>
<circle cx="96.2" cy="602.8" r="1.05" fill="#c4122f"/>
<circle cx="106.9" cy="600.9" r="1.05" fill="#c4122f"/>
<circle cx="79.4" cy="601.6" r="1.05" fill="#c4122f"/>
<circle cx="77.6" cy="601.2" r="1.05" fill="#c4122f"/>
<circle cx="77.6" cy="602.1" r="1.05" fill="#c4122f"/>
<circle cx="104.7" cy="602.7" r="1.05" fill="#c4122f"/>
<circle cx="80.7" cy="602.2" r="1.05" fill="#c4122f"/>
<circle cx="100.0" cy="600.9" r="1.05" fill="#c4122f"/>
<circle cx="108.5" cy="602.8" r="1.05" fill="#c4122f"/>
<circle cx="83.2" cy="602.8" r="1.05" fill="#c4122f"/>
<circle cx="90.0" cy="601.7" r="1.05" fill="#c4122f"/>
<circle cx="112.6" cy="602.5" r="1.05" fill="#c4122f"/>
<circle cx="81.0" cy="601.6" r="1.05" fill="#c4122f"/>
<circle cx="94.5" cy="601.4" r="1.05" fill="#c4122f"/>
<circle cx="82.3" cy="601.3" r="1.05" fill="#c4122f"/>
<circle cx="102.4" cy="600.6" r="1.05" fill="#c4122f"/>
<circle cx="96.0" cy="601.6" r="1.05" fill="#c4122f"/>
<circle cx="75.5" cy="601.4" r="1.05" fill="#c4122f"/>
<circle cx="98.6" cy="601.8" r="1.05" fill="#c4122f"/>
<circle cx="77.3" cy="602.9" r="1.05" fill="#c4122f"/>
<circle cx="104.9" cy="602.8" r="1.05" fill="#c4122f"/>
<circle cx="78.8" cy="601.2" r="1.05" fill="#c4122f"/>
<circle cx="76.3" cy="602.4" r="1.05" fill="#c4122f"/>
<circle cx="85.1" cy="600.9" r="1.05" fill="#c4122f"/>
<circle cx="90.9" cy="602.7" r="1.05" fill="#c4122f"/>
<circle cx="106.1" cy="601.2" r="1.05" fill="#c4122f"/>
<circle cx="80.5" cy="602.7" r="1.05" fill="#c4122f"/>
<circle cx="96.6" cy="602.2" r="1.05" fill="#c4122f"/>
<circle cx="78.2" cy="600.7" r="1.05" fill="#c4122f"/>
<circle cx="101.1" cy="601.6" r="1.05" fill="#c4122f"/>
<circle cx="77.6" cy="602.8" r="1.05" fill="#c4122f"/>
<circle cx="99.0" cy="602.4" r="1.05" fill="#c4122f"/>
<circle cx="78.0" cy="602.6" r="1.05" fill="#c4122f"/>
<circle cx="77.3" cy="602.6" r="1.05" fill="#c4122f"/>
<circle cx="92.1" cy="601.4" r="1.05" fill="#c4122f"/>
<circle cx="95.9" cy="602.7" r="1.05" fill="#c4122f"/>
<circle cx="85.0" cy="600.9" r="1.05" fill="#c4122f"/>
<circle cx="94.9" cy="601.1" r="1.05" fill="#c4122f"/>
<circle cx="79.0" cy="601.0" r="1.05" fill="#c4122f"/>
<circle cx="76.7" cy="601.1" r="1.05" fill="#c4122f"/>
<circle cx="86.7" cy="601.3" r="1.05" fill="#c4122f"/>
<circle cx="103.8" cy="601.3" r="1.05" fill="#c4122f"/>
<circle cx="93.9" cy="601.0" r="1.05" fill="#c4122f"/>
<circle cx="88.1" cy="600.6" r="1.05" fill="#c4122f"/>
<circle cx="84.4" cy="600.6" r="1.05" fill="#c4122f"/>
<circle cx="102.8" cy="601.9" r="1.05" fill="#c4122f"/>
<circle cx="82.0" cy="601.7" r="1.05" fill="#c4122f"/>
<circle cx="110.5" cy="600.8" r="1.05" fill="#c4122f"/>
<circle cx="106.1" cy="601.6" r="1.05" fill="#c4122f"/>
<circle cx="93.7" cy="602.5" r="1.05" fill="#c4122f"/>
<circle cx="89.8" cy="601.8" r="1.05" fill="#c4122f"/>
<circle cx="101.1" cy="602.9" r="1.05" fill="#c4122f"/>
<circle cx="87.9" cy="602.5" r="1.05" fill="#c4122f"/>
<circle cx="101.8" cy="602.1" r="1.05" fill="#c4122f"/>
<circle cx="90.3" cy="601.4" r="1.05" fill="#c4122f"/>
<circle cx="76.9" cy="600.9" r="1.05" fill="#c4122f"/>
<circle cx="77.5" cy="602.3" r="1.05" fill="#c4122f"/>
<circle cx="84.6" cy="601.0" r="1.05" fill="#c4122f"/>
<circle cx="78.0" cy="602.5" r="1.05" fill="#c4122f"/>
<circle cx="108.1" cy="602.1" r="1.05" fill="#c4122f"/>
<circle cx="85.6" cy="601.2" r="1.05" fill="#c4122f"/>
<circle cx="86.0" cy="601.7" r="1.05" fill="#c4122f"/>
<circle cx="80.8" cy="601.6" r="1.05" fill="#c4122f"/>
<circle cx="84.9" cy="602.8" r="1.05" fill="#c4122f"/>
<circle cx="112.0" cy="601.9" r="1.05" fill="#c4122f"/>
<circle cx="84.1" cy="602.8" r="1.05" fill="#c4122f"/>
<circle cx="86.6" cy="601.4" r="1.05" fill="#c4122f"/>
<circle cx="74.8" cy="601.5" r="1.05" fill="#c4122f"/>
<circle cx="92.9" cy="601.8" r="1.05" fill="#c4122f"/>
<circle cx="82.5" cy="601.8" r="1.05" fill="#c4122f"/>
<circle cx="75.0" cy="601.2" r="1.05" fill="#c4122f"/>
<circle cx="78.2" cy="601.5" r="1.05" fill="#c4122f"/>
<circle cx="76.4" cy="600.7" r="1.05" fill="#c4122f"/>
<circle cx="86.4" cy="601.1" r="1.05" fill="#c4122f"/>
<circle cx="97.2" cy="601.8" r="1.05" fill="#c4122f"/>
<circle cx="103.5" cy="602.1" r="1.05" fill="#c4122f"/>
<circle cx="102.2" cy="602.6" r="1.05" fill="#c4122f"/>
<circle cx="89.7" cy="601.4" r="1.05" fill="#c4122f"/>
<circle cx="112.4" cy="600.9" r="1.05" fill="#c4122f"/>
<circle cx="102.5" cy="602.1" r="1.05" fill="#c4122f"/>
<circle cx="76.5" cy="602.5" r="1.05" fill="#c4122f"/>
<circle cx="108.9" cy="602.0" r="1.05" fill="#c4122f"/>
<circle cx="102.8" cy="602.5" r="1.05" fill="#c4122f"/>
<circle cx="80.1" cy="601.8" r="1.05" fill="#c4122f"/>
<circle cx="94.1" cy="602.5" r="1.05" fill="#c4122f"/>
<circle cx="105.5" cy="602.5" r="1.05" fill="#c4122f"/>
<circle cx="97.1" cy="602.7" r="1.05" fill="#c4122f"/>
<circle cx="100.9" cy="602.2" r="1.05" fill="#c4122f"/>
<circle cx="83.6" cy="600.7" r="1.05" fill="#c4122f"/>
<circle cx="79.9" cy="601.4" r="1.05" fill="#c4122f"/>
<circle cx="78.8" cy="602.5" r="1.05" fill="#c4122f"/>
<circle cx="96.1" cy="602.0" r="1.05" fill="#c4122f"/>
<circle cx="98.7" cy="602.2" r="1.05" fill="#c4122f"/>
<circle cx="93.5" cy="600.6" r="1.05" fill="#c4122f"/>
<circle cx="105.3" cy="602.3" r="1.05" fill="#c4122f"/>
<circle cx="94.0" cy="601.8" r="1.05" fill="#c4122f"/>
<circle cx="100.0" cy="600.8" r="1.05" fill="#c4122f"/>
<circle cx="102.9" cy="601.2" r="1.05" fill="#c4122f"/>
<circle cx="77.6" cy="601.2" r="1.05" fill="#c4122f"/>
<circle cx="102.7" cy="601.1" r="1.05" fill="#c4122f"/>
<circle cx="103.1" cy="602.8" r="1.05" fill="#c4122f"/>
<circle cx="93.7" cy="601.5" r="1.05" fill="#c4122f"/>
<circle cx="93.1" cy="602.2" r="1.05" fill="#c4122f"/>
<circle cx="104.1" cy="602.0" r="1.05" fill="#c4122f"/>
<circle cx="99.4" cy="600.8" r="1.05" fill="#c4122f"/>
<circle cx="80.4" cy="601.2" r="1.05" fill="#c4122f"/>
<circle cx="103.2" cy="601.3" r="1.05" fill="#c4122f"/>
<circle cx="96.5" cy="600.6" r="1.05" fill="#c4122f"/>
<circle cx="77.1" cy="601.2" r="1.05" fill="#c4122f"/>
<circle cx="100.5" cy="602.2" r="1.05" fill="#c4122f"/>
<circle cx="100.6" cy="601.3" r="1.05" fill="#c4122f"/>
<circle cx="94.5" cy="601.7" r="1.05" fill="#c4122f"/>
<circle cx="92.6" cy="600.9" r="1.05" fill="#c4122f"/>
<circle cx="108.9" cy="601.1" r="1.05" fill="#c4122f"/>
<circle cx="112.2" cy="602.8" r="1.05" fill="#c4122f"/>
<circle cx="75.5" cy="601.7" r="1.05" fill="#c4122f"/>
<circle cx="106.2" cy="600.4" r="1.05" fill="#c4122f"/>
<circle cx="92.1" cy="597.6" r="1.05" fill="#c4122f"/>
<circle cx="83.0" cy="600.3" r="1.05" fill="#c4122f"/>
<circle cx="83.0" cy="598.8" r="1.05" fill="#c4122f"/>
<circle cx="80.4" cy="598.6" r="1.05" fill="#c4122f"/>
<circle cx="111.2" cy="597.0" r="1.05" fill="#c4122f"/>
<circle cx="106.2" cy="598.5" r="1.05" fill="#c4122f"/>
<circle cx="108.7" cy="599.3" r="1.05" fill="#c4122f"/>
<circle cx="83.8" cy="600.1" r="1.05" fill="#c4122f"/>
<circle cx="93.5" cy="596.6" r="1.05" fill="#c4122f"/>
<circle cx="75.1" cy="598.5" r="1.05" fill="#c4122f"/>
<circle cx="92.1" cy="597.7" r="1.05" fill="#c4122f"/>
<circle cx="80.3" cy="597.9" r="1.05" fill="#c4122f"/>
<circle cx="87.0" cy="599.9" r="1.05" fill="#c4122f"/>
<circle cx="75.1" cy="599.5" r="1.05" fill="#c4122f"/>
<circle cx="106.9" cy="597.0" r="1.05" fill="#c4122f"/>
<circle cx="110.2" cy="599.4" r="1.05" fill="#c4122f"/>
<circle cx="109.3" cy="597.7" r="1.05" fill="#c4122f"/>
<circle cx="89.1" cy="598.1" r="1.05" fill="#c4122f"/>
<circle cx="113.0" cy="598.9" r="1.05" fill="#c4122f"/>
<circle cx="88.7" cy="598.2" r="1.05" fill="#c4122f"/>
<circle cx="85.5" cy="596.7" r="1.05" fill="#c4122f"/>
<circle cx="78.9" cy="599.8" r="1.05" fill="#c4122f"/>
<circle cx="85.9" cy="600.2" r="1.05" fill="#c4122f"/>
<circle cx="84.5" cy="597.6" r="1.05" fill="#c4122f"/>
<circle cx="94.4" cy="597.3" r="1.05" fill="#c4122f"/>
<circle cx="89.2" cy="600.3" r="1.05" fill="#c4122f"/>
<circle cx="108.6" cy="599.7" r="1.05" fill="#c4122f"/>
<circle cx="99.0" cy="600.2" r="1.05" fill="#c4122f"/>
<circle cx="110.7" cy="598.7" r="1.05" fill="#c4122f"/>
<circle cx="102.3" cy="596.7" r="1.05" fill="#c4122f"/>
<circle cx="102.8" cy="598.3" r="1.05" fill="#c4122f"/>
<circle cx="103.6" cy="599.1" r="1.05" fill="#c4122f"/>
<circle cx="85.9" cy="596.7" r="1.05" fill="#c4122f"/>
<circle cx="110.2" cy="597.0" r="1.05" fill="#c4122f"/>
<circle cx="92.9" cy="597.9" r="1.05" fill="#c4122f"/>
<circle cx="86.3" cy="599.5" r="1.05" fill="#c4122f"/>
<circle cx="112.1" cy="597.5" r="1.05" fill="#c4122f"/>
<circle cx="99.9" cy="597.7" r="1.05" fill="#c4122f"/>
<circle cx="96.2" cy="598.1" r="1.05" fill="#c4122f"/>
<circle cx="201.7" cy="383.7" r="1.05" fill="#0a4785"/>
<circle cx="207.0" cy="388.3" r="1.05" fill="#0a4785"/>
<circle cx="181.6" cy="446.7" r="1.05" fill="#0a4785"/>
<circle cx="177.1" cy="448.5" r="1.05" fill="#0a4785"/>
<circle cx="174.1" cy="450.1" r="1.05" fill="#0a4785"/>
<circle cx="177.1" cy="451.7" r="1.05" fill="#0a4785"/>
<circle cx="184.6" cy="455.9" r="1.05" fill="#0a4785"/>
<circle cx="190.3" cy="457.8" r="1.05" fill="#0a4785"/>
<circle cx="206.7" cy="458.2" r="1.05" fill="#0a4785"/>
<circle cx="183.1" cy="462.7" r="1.05" fill="#0a4785"/>
<circle cx="176.9" cy="474.9" r="1.05" fill="#0a4785"/>
<circle cx="187.0" cy="479.7" r="1.05" fill="#0a4785"/>
<circle cx="175.7" cy="481.5" r="1.05" fill="#0a4785"/>
<circle cx="197.8" cy="486.6" r="1.05" fill="#0a4785"/>
<circle cx="194.7" cy="489.5" r="1.05" fill="#0a4785"/>
<circle cx="171.4" cy="490.7" r="1.05" fill="#0a4785"/>
<circle cx="178.0" cy="502.6" r="1.05" fill="#0a4785"/>
<circle cx="198.2" cy="505.4" r="1.05" fill="#0a4785"/>
<circle cx="184.6" cy="506.2" r="1.05" fill="#0a4785"/>
<circle cx="183.0" cy="508.6" r="1.05" fill="#0a4785"/>
<circle cx="179.0" cy="512.8" r="1.05" fill="#0a4785"/>
<circle cx="185.7" cy="512.7" r="1.05" fill="#0a4785"/>
<circle cx="203.5" cy="511.7" r="1.05" fill="#0a4785"/>
<circle cx="172.6" cy="514.8" r="1.05" fill="#0a4785"/>
<circle cx="186.2" cy="515.9" r="1.05" fill="#0a4785"/>
<circle cx="192.3" cy="517.4" r="1.05" fill="#0a4785"/>
<circle cx="180.7" cy="519.0" r="1.05" fill="#0a4785"/>
<circle cx="182.3" cy="520.1" r="1.05" fill="#0a4785"/>
<circle cx="194.0" cy="520.1" r="1.05" fill="#0a4785"/>
<circle cx="203.7" cy="518.9" r="1.05" fill="#0a4785"/>
<circle cx="175.5" cy="521.7" r="1.05" fill="#0a4785"/>
<circle cx="190.0" cy="522.1" r="1.05" fill="#0a4785"/>
<circle cx="191.1" cy="523.8" r="1.05" fill="#0a4785"/>
<circle cx="174.4" cy="525.9" r="1.05" fill="#0a4785"/>
<circle cx="189.2" cy="529.9" r="1.05" fill="#0a4785"/>
<circle cx="193.1" cy="529.9" r="1.05" fill="#0a4785"/>
<circle cx="201.8" cy="532.7" r="1.05" fill="#0a4785"/>
<circle cx="203.2" cy="535.3" r="1.05" fill="#0a4785"/>
<circle cx="191.6" cy="535.4" r="1.05" fill="#0a4785"/>
<circle cx="178.7" cy="539.6" r="1.05" fill="#0a4785"/>
<circle cx="180.2" cy="538.6" r="1.05" fill="#0a4785"/>
<circle cx="198.7" cy="539.7" r="1.05" fill="#0a4785"/>
<circle cx="200.1" cy="538.6" r="1.05" fill="#0a4785"/>
<circle cx="176.4" cy="545.0" r="1.05" fill="#0a4785"/>
<circle cx="202.1" cy="543.9" r="1.05" fill="#0a4785"/>
<circle cx="182.5" cy="547.5" r="1.05" fill="#0a4785"/>
<circle cx="203.2" cy="554.1" r="1.05" fill="#0a4785"/>
<circle cx="195.9" cy="559.9" r="1.05" fill="#0a4785"/>
<circle cx="175.9" cy="563.3" r="1.05" fill="#0a4785"/>
<circle cx="178.1" cy="566.9" r="1.05" fill="#0a4785"/>
<circle cx="186.5" cy="572.0" r="1.05" fill="#0a4785"/>
<circle cx="195.2" cy="573.0" r="1.05" fill="#0a4785"/>
<circle cx="201.8" cy="572.3" r="1.05" fill="#0a4785"/>
<circle cx="183.3" cy="574.6" r="1.05" fill="#0a4785"/>
<circle cx="197.8" cy="574.6" r="1.05" fill="#0a4785"/>
<circle cx="183.4" cy="574.7" r="1.05" fill="#0a4785"/>
<circle cx="187.1" cy="575.8" r="1.05" fill="#0a4785"/>
<circle cx="198.0" cy="575.3" r="1.05" fill="#0a4785"/>
<circle cx="175.1" cy="578.1" r="1.05" fill="#0a4785"/>
<circle cx="184.6" cy="577.8" r="1.05" fill="#0a4785"/>
<circle cx="181.2" cy="582.7" r="1.05" fill="#0a4785"/>
<circle cx="194.9" cy="582.7" r="1.05" fill="#0a4785"/>
<circle cx="203.2" cy="583.2" r="1.05" fill="#0a4785"/>
<circle cx="184.8" cy="585.3" r="1.05" fill="#0a4785"/>
<circle cx="188.9" cy="585.0" r="1.05" fill="#0a4785"/>
<circle cx="204.6" cy="585.5" r="1.05" fill="#0a4785"/>
<circle cx="200.9" cy="587.6" r="1.05" fill="#0a4785"/>
<circle cx="186.9" cy="590.1" r="1.05" fill="#0a4785"/>
<circle cx="193.8" cy="589.6" r="1.05" fill="#0a4785"/>
<circle cx="186.0" cy="593.8" r="1.05" fill="#0a4785"/>
<circle cx="172.6" cy="595.3" r="1.05" fill="#0a4785"/>
<circle cx="174.9" cy="595.8" r="1.05" fill="#0a4785"/>
<circle cx="183.4" cy="596.1" r="1.05" fill="#0a4785"/>
<circle cx="201.8" cy="594.5" r="1.05" fill="#0a4785"/>
<circle cx="203.1" cy="594.2" r="1.05" fill="#0a4785"/>
<circle cx="175.4" cy="600.8" r="1.05" fill="#0a4785"/>
<circle cx="176.9" cy="602.6" r="1.05" fill="#0a4785"/>
<circle cx="187.9" cy="600.9" r="1.05" fill="#0a4785"/>
<circle cx="203.4" cy="602.8" r="1.05" fill="#0a4785"/>
<circle cx="186.1" cy="600.7" r="1.05" fill="#0a4785"/>
<circle cx="176.3" cy="600.6" r="1.05" fill="#0a4785"/>
<circle cx="182.0" cy="600.6" r="1.05" fill="#0a4785"/>
<circle cx="178.1" cy="601.0" r="1.05" fill="#0a4785"/>
<circle cx="190.6" cy="602.5" r="1.05" fill="#0a4785"/>
<circle cx="197.5" cy="601.4" r="1.05" fill="#0a4785"/>
<circle cx="184.7" cy="601.7" r="1.05" fill="#0a4785"/>
<circle cx="183.3" cy="601.2" r="1.05" fill="#0a4785"/>
<circle cx="171.4" cy="601.1" r="1.05" fill="#0a4785"/>
<circle cx="205.8" cy="600.7" r="1.05" fill="#0a4785"/>
<circle cx="188.1" cy="601.9" r="1.05" fill="#0a4785"/>
<circle cx="201.8" cy="600.9" r="1.05" fill="#0a4785"/>
<circle cx="179.3" cy="601.0" r="1.05" fill="#0a4785"/>
<circle cx="184.2" cy="601.5" r="1.05" fill="#0a4785"/>
<circle cx="205.2" cy="602.4" r="1.05" fill="#0a4785"/>
<circle cx="202.2" cy="600.5" r="1.05" fill="#0a4785"/>
<circle cx="170.2" cy="602.1" r="1.05" fill="#0a4785"/>
<circle cx="203.0" cy="601.5" r="1.05" fill="#0a4785"/>
<circle cx="191.3" cy="600.4" r="1.05" fill="#0a4785"/>
<circle cx="183.9" cy="602.6" r="1.05" fill="#0a4785"/>
<circle cx="200.4" cy="602.5" r="1.05" fill="#0a4785"/>
<circle cx="205.9" cy="601.0" r="1.05" fill="#0a4785"/>
<circle cx="173.1" cy="600.8" r="1.05" fill="#0a4785"/>
<circle cx="188.8" cy="602.0" r="1.05" fill="#0a4785"/>
<circle cx="204.8" cy="602.1" r="1.05" fill="#0a4785"/>
<circle cx="193.6" cy="602.2" r="1.05" fill="#0a4785"/>
<circle cx="186.4" cy="601.7" r="1.05" fill="#0a4785"/>
<circle cx="170.5" cy="602.3" r="1.05" fill="#0a4785"/>
<circle cx="177.8" cy="602.6" r="1.05" fill="#0a4785"/>
<circle cx="193.5" cy="601.1" r="1.05" fill="#0a4785"/>
<circle cx="173.9" cy="601.0" r="1.05" fill="#0a4785"/>
<circle cx="193.2" cy="602.1" r="1.05" fill="#0a4785"/>
<circle cx="173.3" cy="600.6" r="1.05" fill="#0a4785"/>
<circle cx="188.9" cy="601.8" r="1.05" fill="#0a4785"/>
<circle cx="183.7" cy="600.9" r="1.05" fill="#0a4785"/>
<circle cx="191.8" cy="600.4" r="1.05" fill="#0a4785"/>
<circle cx="180.5" cy="601.5" r="1.05" fill="#0a4785"/>
<circle cx="205.4" cy="601.9" r="1.05" fill="#0a4785"/>
<circle cx="202.6" cy="601.5" r="1.05" fill="#0a4785"/>
<circle cx="177.9" cy="601.0" r="1.05" fill="#0a4785"/>
<circle cx="205.5" cy="602.1" r="1.05" fill="#0a4785"/>
<circle cx="180.7" cy="600.5" r="1.05" fill="#0a4785"/>
<circle cx="187.9" cy="602.0" r="1.05" fill="#0a4785"/>
<circle cx="185.0" cy="601.0" r="1.05" fill="#0a4785"/>
<circle cx="194.4" cy="602.6" r="1.05" fill="#0a4785"/>
<circle cx="177.6" cy="600.5" r="1.05" fill="#0a4785"/>
<circle cx="181.8" cy="601.4" r="1.05" fill="#0a4785"/>
<circle cx="194.9" cy="600.9" r="1.05" fill="#0a4785"/>
<circle cx="199.3" cy="602.2" r="1.05" fill="#0a4785"/>
<circle cx="188.2" cy="600.9" r="1.05" fill="#0a4785"/>
<circle cx="205.9" cy="601.1" r="1.05" fill="#0a4785"/>
<circle cx="200.2" cy="601.0" r="1.05" fill="#0a4785"/>
<circle cx="177.4" cy="602.2" r="1.05" fill="#0a4785"/>
<circle cx="180.2" cy="602.7" r="1.05" fill="#0a4785"/>
<circle cx="187.8" cy="600.8" r="1.05" fill="#0a4785"/>
<circle cx="177.5" cy="601.4" r="1.05" fill="#0a4785"/>
<circle cx="194.3" cy="602.7" r="1.05" fill="#0a4785"/>
<circle cx="174.6" cy="601.3" r="1.05" fill="#0a4785"/>
<circle cx="177.1" cy="602.7" r="1.05" fill="#0a4785"/>
<circle cx="174.4" cy="600.5" r="1.05" fill="#0a4785"/>
<circle cx="171.3" cy="601.3" r="1.05" fill="#0a4785"/>
<circle cx="203.1" cy="602.5" r="1.05" fill="#0a4785"/>
<circle cx="196.8" cy="602.8" r="1.05" fill="#0a4785"/>
<circle cx="204.4" cy="601.2" r="1.05" fill="#0a4785"/>
<circle cx="176.0" cy="602.6" r="1.05" fill="#0a4785"/>
<circle cx="197.4" cy="600.5" r="1.05" fill="#0a4785"/>
<circle cx="194.2" cy="601.3" r="1.05" fill="#0a4785"/>
<circle cx="183.2" cy="601.2" r="1.05" fill="#0a4785"/>
<circle cx="175.4" cy="600.4" r="1.05" fill="#0a4785"/>
<circle cx="179.6" cy="601.2" r="1.05" fill="#0a4785"/>
<circle cx="205.3" cy="600.7" r="1.05" fill="#0a4785"/>
<circle cx="205.6" cy="600.9" r="1.05" fill="#0a4785"/>
<circle cx="182.6" cy="602.4" r="1.05" fill="#0a4785"/>
<circle cx="200.2" cy="601.4" r="1.05" fill="#0a4785"/>
<circle cx="170.9" cy="601.5" r="1.05" fill="#0a4785"/>
<circle cx="183.2" cy="602.6" r="1.05" fill="#0a4785"/>
<circle cx="176.3" cy="601.3" r="1.05" fill="#0a4785"/>
<circle cx="203.1" cy="600.5" r="1.05" fill="#0a4785"/>
<circle cx="184.6" cy="602.3" r="1.05" fill="#0a4785"/>
<circle cx="198.1" cy="600.5" r="1.05" fill="#0a4785"/>
<circle cx="170.3" cy="600.6" r="1.05" fill="#0a4785"/>
<circle cx="204.0" cy="601.0" r="1.05" fill="#0a4785"/>
<circle cx="197.4" cy="602.6" r="1.05" fill="#0a4785"/>
<circle cx="181.9" cy="601.1" r="1.05" fill="#0a4785"/>
<circle cx="205.4" cy="601.9" r="1.05" fill="#0a4785"/>
<circle cx="179.0" cy="602.1" r="1.05" fill="#0a4785"/>
<circle cx="181.0" cy="601.1" r="1.05" fill="#0a4785"/>
<circle cx="169.1" cy="602.2" r="1.05" fill="#0a4785"/>
<circle cx="203.8" cy="601.9" r="1.05" fill="#0a4785"/>
<circle cx="204.8" cy="600.5" r="1.05" fill="#0a4785"/>
<circle cx="177.9" cy="601.5" r="1.05" fill="#0a4785"/>
<circle cx="204.4" cy="600.0" r="1.05" fill="#0a4785"/>
<circle cx="183.9" cy="597.7" r="1.05" fill="#0a4785"/>
<circle cx="185.5" cy="598.5" r="1.05" fill="#0a4785"/>
<circle cx="203.4" cy="597.4" r="1.05" fill="#0a4785"/>
<circle cx="198.9" cy="599.3" r="1.05" fill="#0a4785"/>
<circle cx="199.6" cy="599.4" r="1.05" fill="#0a4785"/>
<circle cx="191.9" cy="597.9" r="1.05" fill="#0a4785"/>
<circle cx="181.5" cy="598.0" r="1.05" fill="#0a4785"/>
<circle cx="198.2" cy="597.1" r="1.05" fill="#0a4785"/>
<circle cx="177.1" cy="599.4" r="1.05" fill="#0a4785"/>
<circle cx="178.9" cy="597.0" r="1.05" fill="#0a4785"/>
<circle cx="171.2" cy="598.7" r="1.05" fill="#0a4785"/>
<circle cx="181.7" cy="600.1" r="1.05" fill="#0a4785"/>
<circle cx="201.8" cy="600.2" r="1.05" fill="#0a4785"/>
<circle cx="179.5" cy="597.1" r="1.05" fill="#0a4785"/>
<circle cx="173.5" cy="598.5" r="1.05" fill="#0a4785"/>
<circle cx="195.6" cy="598.3" r="1.05" fill="#0a4785"/>
<circle cx="178.4" cy="598.2" r="1.05" fill="#0a4785"/>
<circle cx="192.3" cy="599.1" r="1.05" fill="#0a4785"/>
<circle cx="196.9" cy="599.7" r="1.05" fill="#0a4785"/>
<circle cx="193.9" cy="597.2" r="1.05" fill="#0a4785"/>
<circle cx="200.3" cy="597.8" r="1.05" fill="#0a4785"/>
<circle cx="190.4" cy="598.1" r="1.05" fill="#0a4785"/>
<circle cx="196.6" cy="597.5" r="1.05" fill="#0a4785"/>
<circle cx="178.9" cy="597.6" r="1.05" fill="#0a4785"/>
<circle cx="175.5" cy="599.8" r="1.05" fill="#0a4785"/>
<circle cx="190.8" cy="597.9" r="1.05" fill="#0a4785"/>
<circle cx="184.3" cy="600.2" r="1.05" fill="#0a4785"/>
<circle cx="188.3" cy="597.6" r="1.05" fill="#0a4785"/>
<circle cx="199.1" cy="599.0" r="1.05" fill="#0a4785"/>
<text transform="translate(275.20,414.30)" font-size="11" fill="#231f20" stroke="#231f20" stroke-width="0.18" font-weight="bold">D</text>
<polygon points="318.90,606.90 318.90,606.60 319.30,606.60 319.30,604.75 319.65,604.75 319.65,602.90 320.00,602.90 320.00,601.03 320.10,601.03 320.10,599.17 320.20,599.17 320.20,597.30 320.30,597.30 320.30,596.70 322.10,596.70 322.10,595.27 322.43,595.27 322.43,593.83 322.77,593.83 322.77,592.40 323.10,592.40 323.10,591.40 324.60,591.40 324.60,588.90 326.20,588.90 326.20,588.30 327.70,588.30 327.70,586.80 329.90,586.80 329.90,584.30 330.50,584.30 330.50,582.40 331.80,582.40 331.80,580.87 332.00,580.87 332.00,579.33 332.20,579.33 332.20,577.80 332.40,577.80 332.40,575.60 333.60,575.60 333.60,574.60 334.20,574.60 334.20,572.50 335.00,572.50 335.00,570.40 335.80,570.40 335.80,568.85 336.55,568.85 336.55,567.30 337.30,567.30 337.30,565.75 337.70,565.75 337.70,564.20 338.10,564.20 338.10,562.85 338.85,562.85 338.85,561.50 339.60,561.50 339.60,561.15 341.15,561.15 341.15,560.80 342.70,560.80 342.70,559.65 344.05,559.65 344.05,558.50 345.40,558.50 345.40,556.90 347.70,556.90 347.70,554.60 348.80,554.60 348.80,552.30 350.40,552.30 350.40,550.75 351.15,550.75 351.15,549.20 351.90,549.20 351.90,547.50 352.50,547.50 352.50,545.80 353.10,545.80 353.10,544.25 354.25,544.25 354.25,542.70 355.40,542.70 355.40,541.20 357.30,541.20 357.30,541.00 358.40,541.00 358.40,540.50 360.40,540.50 360.40,538.10 361.20,538.10 361.20,536.25 361.50,536.25 361.50,534.40 361.80,534.40 361.80,533.20 363.25,533.20 363.25,532.00 364.70,532.00 364.70,530.55 365.90,530.55 365.90,529.10 367.10,529.10 367.10,527.70 368.55,527.70 368.55,526.30 370.00,526.30 370.00,525.05 371.45,525.05 371.45,523.80 372.90,523.80 372.90,523.80 374.33,523.80 374.33,523.80 375.77,523.80 375.77,523.80 377.20,523.80 377.20,522.90 379.60,522.90 379.60,521.00 382.00,521.00 382.00,519.55 383.95,519.55 383.95,518.10 385.90,518.10 385.90,517.35 387.80,517.35 387.80,516.60 389.70,516.60 389.70,514.20 391.70,514.20 391.70,513.25 393.10,513.25 393.10,512.30 394.50,512.30 394.50,510.40 395.00,510.40 395.00,509.40 397.40,509.40 397.40,509.15 398.85,509.15 398.85,508.90 400.30,508.90 400.30,507.47 400.30,507.47 400.30,506.03 400.30,506.03 400.30,504.60 400.30,504.60 400.30,502.20 402.60,502.20 402.60,501.23 403.92,501.23 403.92,500.26 405.24,500.26 405.24,499.28 406.56,499.28 406.56,498.31 407.89,498.31 407.89,497.34 409.21,497.34 409.21,496.37 410.53,496.37 410.53,495.40 411.85,495.40 411.85,494.43 413.17,494.43 413.17,493.45 414.50,493.45 414.50,492.48 415.82,492.48 415.82,491.51 417.14,491.51 417.14,490.54 418.46,490.54 418.46,489.57 419.78,489.57 419.78,488.60 421.10,488.60 421.10,487.62 422.43,487.62 422.43,486.65 423.75,486.65 423.75,485.68 425.07,485.68 425.07,484.71 426.39,484.71 426.39,483.74 427.71,483.74 427.71,482.77 429.03,482.77 429.03,481.79 430.36,481.79 430.36,480.82 431.68,480.82 431.68,479.85 433.00,479.85 433.00,478.88 434.32,478.88 434.32,477.91 435.64,477.91 435.64,476.94 436.96,476.94 436.96,475.96 438.28,475.96 438.28,474.99 439.61,474.99 439.61,474.02 440.93,474.02 440.93,473.05 442.25,473.05 442.25,472.08 443.57,472.08 443.57,471.11 444.89,471.11 444.89,470.13 446.22,470.13 446.22,469.16 447.54,469.16 447.54,468.19 448.86,468.19 448.86,467.22 450.18,467.22 450.18,466.25 451.50,466.25 451.50,465.28 452.82,465.28 452.82,464.31 454.14,464.31 454.14,463.33 455.47,463.33 455.47,462.36 456.79,462.36 456.79,461.39 458.11,461.39 458.11,460.42 459.43,460.42 459.43,459.45 460.75,459.45 460.75,458.47 462.07,458.47 462.07,457.50 463.40,457.50 463.40,456.53 464.72,456.53 464.72,455.56 466.04,455.56 466.04,454.59 467.36,454.59 467.36,453.62 468.68,453.62 468.68,452.64 470.00,452.64 470.00,451.67 471.33,451.67 471.33,450.70 472.65,450.70 472.65,449.73 473.97,449.73 473.97,448.76 475.29,448.76 475.29,447.79 476.61,447.79 476.61,446.81 477.94,446.81 477.94,445.84 479.26,445.84 479.26,444.87 480.58,444.87 480.58,443.90 481.90,443.90" fill="#c4122f"/>
<polyline points="318.90,606.90 318.90,606.60 319.30,606.60 319.30,604.75 319.65,604.75 319.65,602.90 320.00,602.90 320.00,601.03 320.10,601.03 320.10,599.17 320.20,599.17 320.20,597.30 320.30,597.30 320.30,596.70 322.10,596.70 322.10,595.27 322.43,595.27 322.43,593.83 322.77,593.83 322.77,592.40 323.10,592.40 323.10,591.40 324.60,591.40 324.60,588.90 326.20,588.90 326.20,588.30 327.70,588.30 327.70,586.80 329.90,586.80 329.90,584.30 330.50,584.30 330.50,582.40 331.80,582.40 331.80,580.87 332.00,580.87 332.00,579.33 332.20,579.33 332.20,577.80 332.40,577.80 332.40,575.60 333.60,575.60 333.60,574.60 334.20,574.60 334.20,572.50 335.00,572.50 335.00,570.40 335.80,570.40 335.80,568.85 336.55,568.85 336.55,567.30 337.30,567.30 337.30,565.75 337.70,565.75 337.70,564.20 338.10,564.20 338.10,562.85 338.85,562.85 338.85,561.50 339.60,561.50 339.60,561.15 341.15,561.15 341.15,560.80 342.70,560.80 342.70,559.65 344.05,559.65 344.05,558.50 345.40,558.50 345.40,556.90 347.70,556.90 347.70,554.60 348.80,554.60 348.80,552.30 350.40,552.30 350.40,550.75 351.15,550.75 351.15,549.20 351.90,549.20 351.90,547.50 352.50,547.50 352.50,545.80 353.10,545.80 353.10,544.25 354.25,544.25 354.25,542.70 355.40,542.70 355.40,541.20 357.30,541.20 357.30,541.00 358.40,541.00 358.40,540.50 360.40,540.50 360.40,538.10 361.20,538.10 361.20,536.25 361.50,536.25 361.50,534.40 361.80,534.40 361.80,533.20 363.25,533.20 363.25,532.00 364.70,532.00 364.70,530.55 365.90,530.55 365.90,529.10 367.10,529.10 367.10,527.70 368.55,527.70 368.55,526.30 370.00,526.30 370.00,525.05 371.45,525.05 371.45,523.80 372.90,523.80 372.90,523.80 374.33,523.80 374.33,523.80 375.77,523.80 375.77,523.80 377.20,523.80 377.20,522.90 379.60,522.90 379.60,521.00 382.00,521.00 382.00,519.55 383.95,519.55 383.95,518.10 385.90,518.10 385.90,517.35 387.80,517.35 387.80,516.60 389.70,516.60 389.70,514.20 391.70,514.20 391.70,513.25 393.10,513.25 393.10,512.30 394.50,512.30 394.50,510.40 395.00,510.40 395.00,509.40 397.40,509.40 397.40,509.15 398.85,509.15 398.85,508.90 400.30,508.90 400.30,507.47 400.30,507.47 400.30,506.03 400.30,506.03 400.30,504.60 400.30,504.60 400.30,502.20 402.60,502.20 402.60,501.23 403.92,501.23 403.92,500.26 405.24,500.26 405.24,499.28 406.56,499.28 406.56,498.31 407.89,498.31 407.89,497.34 409.21,497.34 409.21,496.37 410.53,496.37 410.53,495.40 411.85,495.40 411.85,494.43 413.17,494.43 413.17,493.45 414.50,493.45 414.50,492.48 415.82,492.48 415.82,491.51 417.14,491.51 417.14,490.54 418.46,490.54 418.46,489.57 419.78,489.57 419.78,488.60 421.10,488.60 421.10,487.62 422.43,487.62 422.43,486.65 423.75,486.65 423.75,485.68 425.07,485.68 425.07,484.71 426.39,484.71 426.39,483.74 427.71,483.74 427.71,482.77 429.03,482.77 429.03,481.79 430.36,481.79 430.36,480.82 431.68,480.82 431.68,479.85 433.00,479.85 433.00,478.88 434.32,478.88 434.32,477.91 435.64,477.91 435.64,476.94 436.96,476.94 436.96,475.96 438.28,475.96 438.28,474.99 439.61,474.99 439.61,474.02 440.93,474.02 440.93,473.05 442.25,473.05 442.25,472.08 443.57,472.08 443.57,471.11 444.89,471.11 444.89,470.13 446.22,470.13 446.22,469.16 447.54,469.16 447.54,468.19 448.86,468.19 448.86,467.22 450.18,467.22 450.18,466.25 451.50,466.25 451.50,465.28 452.82,465.28 452.82,464.31 454.14,464.31 454.14,463.33 455.47,463.33 455.47,462.36 456.79,462.36 456.79,461.39 458.11,461.39 458.11,460.42 459.43,460.42 459.43,459.45 460.75,459.45 460.75,458.47 462.07,458.47 462.07,457.50 463.40,457.50 463.40,456.53 464.72,456.53 464.72,455.56 466.04,455.56 466.04,454.59 467.36,454.59 467.36,453.62 468.68,453.62 468.68,452.64 470.00,452.64 470.00,451.67 471.33,451.67 471.33,450.70 472.65,450.70 472.65,449.73 473.97,449.73 473.97,448.76 475.29,448.76 475.29,447.79 476.61,447.79 476.61,446.81 477.94,446.81 477.94,445.84 479.26,445.84 479.26,444.87 480.58,444.87 480.58,443.90 481.90,443.90" fill="none" stroke="#33306a" stroke-width="0.6" stroke-linejoin="miter"/>
<line x1="312.3" y1="613.1" x2="488.5" y2="437.4" stroke="#9aa3ad" stroke-width="0.8"/>
<rect x="312.3" y="437.4" width="176.2" height="175.7" fill="none" stroke="#111" stroke-width="1.2"/>
<line x1="309.2" y1="606.90" x2="312.3" y2="606.90" stroke="#111" stroke-width="1"/>
<text transform="translate(306.40,609.50)" font-size="7.4" fill="#231f20" stroke="#231f20" stroke-width="0.18" text-anchor="end">0.0</text>
<line x1="318.90" y1="613.1" x2="318.90" y2="616.4" stroke="#111" stroke-width="1"/>
<text transform="translate(318.90,624.80)" font-size="7.4" fill="#231f20" stroke="#231f20" stroke-width="0.18" text-anchor="middle">1.0</text>
<line x1="309.2" y1="574.30" x2="312.3" y2="574.30" stroke="#111" stroke-width="1"/>
<text transform="translate(306.40,576.90)" font-size="7.4" fill="#231f20" stroke="#231f20" stroke-width="0.18" text-anchor="end">0.2</text>
<line x1="351.50" y1="613.1" x2="351.50" y2="616.4" stroke="#111" stroke-width="1"/>
<text transform="translate(351.50,624.80)" font-size="7.4" fill="#231f20" stroke="#231f20" stroke-width="0.18" text-anchor="middle">0.8</text>
<line x1="309.2" y1="541.70" x2="312.3" y2="541.70" stroke="#111" stroke-width="1"/>
<text transform="translate(306.40,544.30)" font-size="7.4" fill="#231f20" stroke="#231f20" stroke-width="0.18" text-anchor="end">0.4</text>
<line x1="384.10" y1="613.1" x2="384.10" y2="616.4" stroke="#111" stroke-width="1"/>
<text transform="translate(384.10,624.80)" font-size="7.4" fill="#231f20" stroke="#231f20" stroke-width="0.18" text-anchor="middle">0.6</text>
<line x1="309.2" y1="509.10" x2="312.3" y2="509.10" stroke="#111" stroke-width="1"/>
<text transform="translate(306.40,511.70)" font-size="7.4" fill="#231f20" stroke="#231f20" stroke-width="0.18" text-anchor="end">0.6</text>
<line x1="416.70" y1="613.1" x2="416.70" y2="616.4" stroke="#111" stroke-width="1"/>
<text transform="translate(416.70,624.80)" font-size="7.4" fill="#231f20" stroke="#231f20" stroke-width="0.18" text-anchor="middle">0.4</text>
<line x1="309.2" y1="476.50" x2="312.3" y2="476.50" stroke="#111" stroke-width="1"/>
<text transform="translate(306.40,479.10)" font-size="7.4" fill="#231f20" stroke="#231f20" stroke-width="0.18" text-anchor="end">0.8</text>
<line x1="449.30" y1="613.1" x2="449.30" y2="616.4" stroke="#111" stroke-width="1"/>
<text transform="translate(449.30,624.80)" font-size="7.4" fill="#231f20" stroke="#231f20" stroke-width="0.18" text-anchor="middle">0.2</text>
<line x1="309.2" y1="443.90" x2="312.3" y2="443.90" stroke="#111" stroke-width="1"/>
<text transform="translate(306.40,446.50)" font-size="7.4" fill="#231f20" stroke="#231f20" stroke-width="0.18" text-anchor="end">1.0</text>
<line x1="481.90" y1="613.1" x2="481.90" y2="616.4" stroke="#111" stroke-width="1"/>
<text transform="translate(481.90,624.80)" font-size="7.4" fill="#231f20" stroke="#231f20" stroke-width="0.18" text-anchor="middle">0.0</text>
<text transform="translate(400.20,636.00) scale(0.7708273948844361,1)" font-size="8.3" fill="#231f20" text-anchor="middle" stroke="#231f20" stroke-width="0.25">Specificity</text>
<text transform="translate(290.10,525.00) rotate(-90) scale(0.7815333309244976,1)" font-size="8.3" fill="#231f20" text-anchor="middle" stroke="#231f20" stroke-width="0.25">Sensitivity</text>
<text transform="translate(427.10,589.80)" font-size="9.2" fill="#231f20" stroke="#231f20" stroke-width="0.18" text-anchor="middle">AUC 0.59</text>
<text transform="translate(426.50,600.90)" font-size="9.2" fill="#231f20" stroke="#231f20" stroke-width="0.18" text-anchor="middle">(95%CI: 0.54-0.65)</text>
<rect x="0" y="0" width="520" height="1.1" fill="#000"/>
<rect x="0" y="0" width="1.2" height="644" fill="#000"/>
<rect x="518.8" y="0" width="1.2" height="644" fill="#000"/>
<rect x="0" y="642.3" width="520" height="1.7" fill="#000"/>
</svg>
</body></html>
